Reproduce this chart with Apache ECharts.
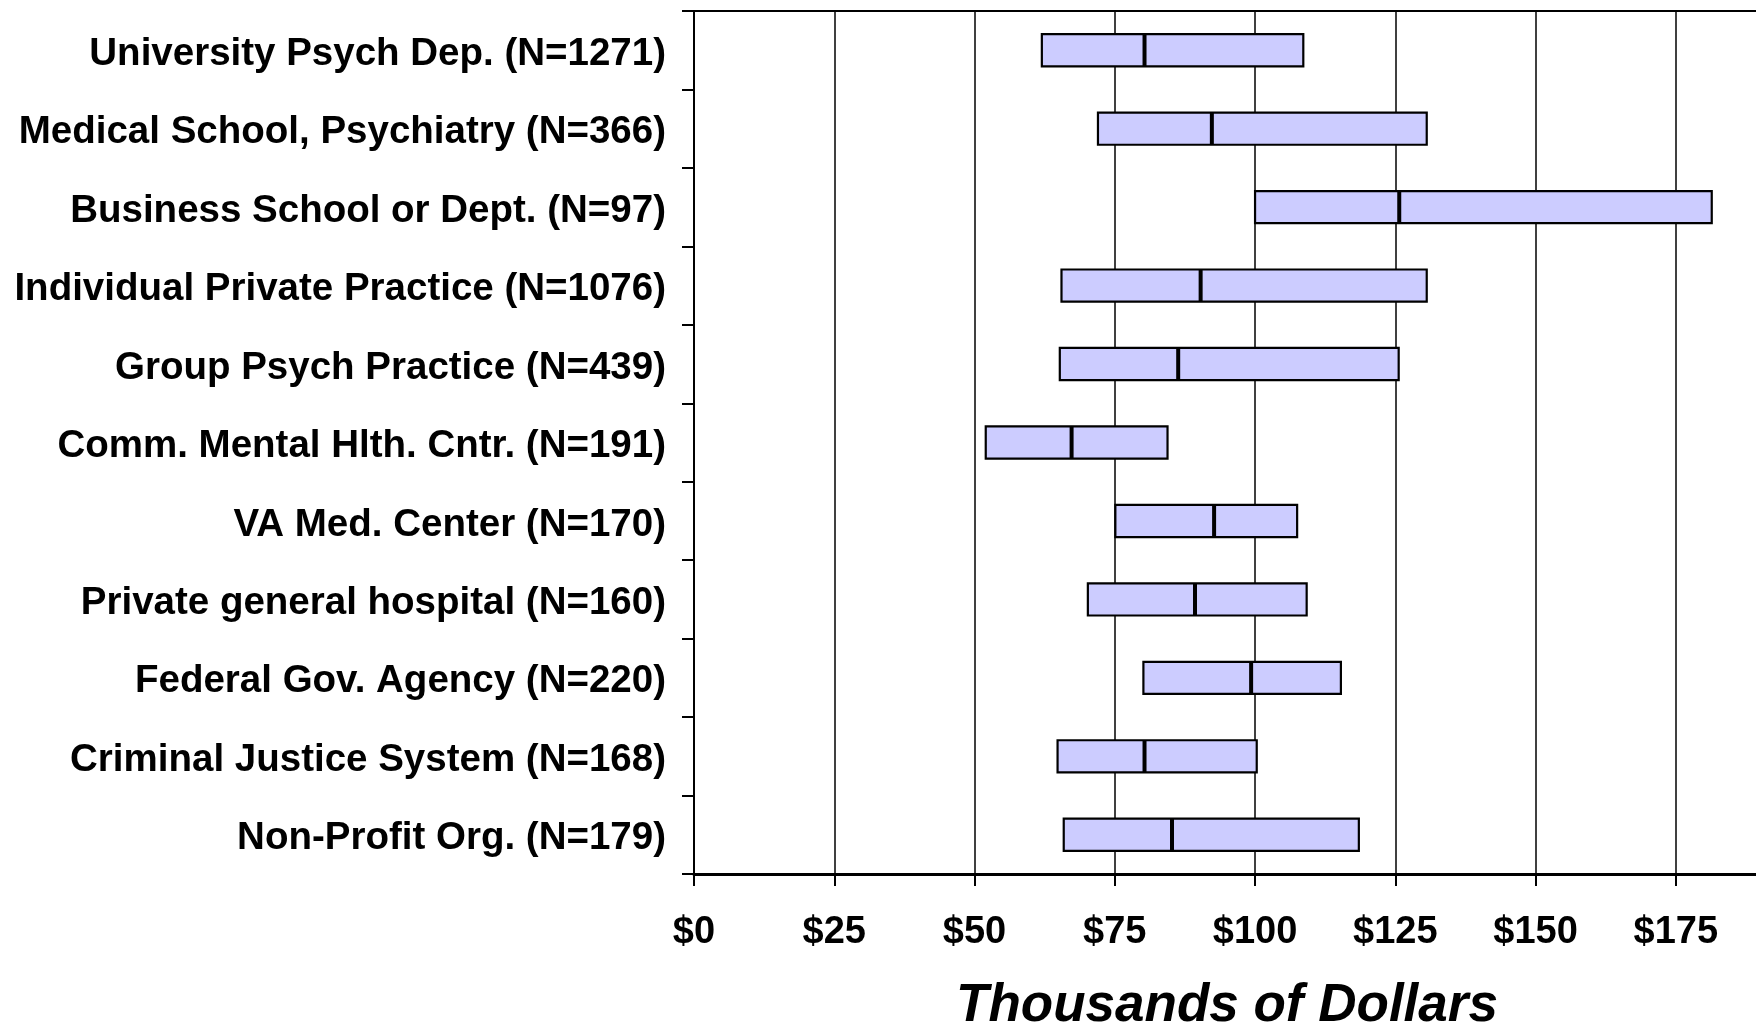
<!DOCTYPE html>
<html>
<head>
<meta charset="utf-8">
<script src="https://cdn.jsdelivr.net/npm/echarts@6/dist/echarts.min.js"></script>
<style>
html,body{margin:0;padding:0;background:#fff;}
#chart{width:1756px;height:1026px;}
</style>
</head>
<body>
<div id="chart"></div>
<script>
const categories = [
  'University Psych Dep. (N=1271)',
  'Medical School, Psychiatry (N=366)',
  'Business School or Dept. (N=97)',
  'Individual Private Practice (N=1076)',
  'Group Psych Practice (N=439)',
  'Comm. Mental Hlth. Cntr. (N=191)',
  'VA Med. Center (N=170)',
  'Private general hospital (N=160)',
  'Federal Gov. Agency (N=220)',
  'Criminal Justice System (N=168)',
  'Non-Profit Org. (N=179)'
];
const lowValues    = [62.0, 72.0, 100.0, 65.5, 65.2, 52.0, 75.1, 70.2, 80.1, 64.8, 65.9];
const medianValues = [80.3, 92.3, 125.7, 90.3, 86.3, 67.3, 92.7, 89.3, 99.3, 80.3, 85.2];
const highValues   = [108.6, 130.6, 181.4, 130.6, 125.6, 84.4, 107.5, 109.2, 115.3, 100.3, 118.5];
const tickValues = [0, 25, 50, 75, 100, 125, 150, 175];

const FONT = '"Liberation Sans", Arial, sans-serif';
const data = categories.map((c, i) => [i, lowValues[i], medianValues[i], highValues[i]]);

const chart = echarts.init(document.getElementById('chart'));
chart.setOption({
  animation: false,
  backgroundColor: '#fff',
  grid: {
    left: 694, right: -4, top: 11, bottom: 152,
    containLabel: false,
    outerBoundsMode: 'none',
    show: true, borderColor: '#000', borderWidth: 2, backgroundColor: 'transparent'
  },
  xAxis: {
    type: 'value',
    min: 0, max: 190, interval: 25,
    name: 'Thousands of Dollars',
    nameLocation: 'middle',
    nameGap: 106,
    nameTextStyle: { fontFamily: FONT, fontSize: 53, fontWeight: 'bold', fontStyle: 'italic', color: '#000' },
    axisLine: { show: true, lineStyle: { color: '#000', width: 3 } },
    axisTick: { show: true, length: 12, lineStyle: { color: '#000', width: 2 } },
    axisLabel: {
      margin: 40, fontFamily: FONT, fontSize: 38, fontWeight: 'bold', color: '#000',
      formatter: v => tickValues.indexOf(v) >= 0 ? '$' + v : ''
    },
    splitLine: { show: true, lineStyle: { color: '#000', width: 1.5 } }
  },
  yAxis: {
    type: 'category',
    data: categories,
    inverse: true,
    axisLine: { show: true, lineStyle: { color: '#000', width: 2 } },
    axisTick: { show: true, length: 12, inside: false, lineStyle: { color: '#000', width: 2 } },
    axisLabel: {
      margin: 28, fontFamily: FONT, fontSize: 38.5, fontWeight: 'bold', color: '#000',
      formatter: v => '{c|' + v + '}',
      rich: { c: { fontFamily: FONT, fontSize: 38.5, fontWeight: 'bold', color: '#000', padding: [8, 0, 0, 0] } }
    },
    splitLine: { show: false }
  },
  series: [{
    type: 'custom',
    data: data,
    encode: { y: 0, x: [1, 2, 3] },
    renderItem: function (params, api) {
      const yi = api.value(0);
      const lo = api.coord([api.value(1), yi]);
      const md = api.coord([api.value(2), yi]);
      const hi = api.coord([api.value(3), yi]);
      const bh = api.size([0, 1])[1] * 0.41;
      return {
        type: 'group',
        children: [
          {
            type: 'rect',
            shape: { x: lo[0], y: lo[1] - bh / 2, width: hi[0] - lo[0], height: bh },
            style: { fill: '#CCCCFF', stroke: '#000', lineWidth: 2.2 }
          },
          {
            type: 'line',
            shape: { x1: md[0], y1: lo[1] - bh / 2, x2: md[0], y2: lo[1] + bh / 2 },
            style: { stroke: '#000', lineWidth: 4 }
          }
        ]
      };
    }
  }]
});
</script>
</body>
</html>
